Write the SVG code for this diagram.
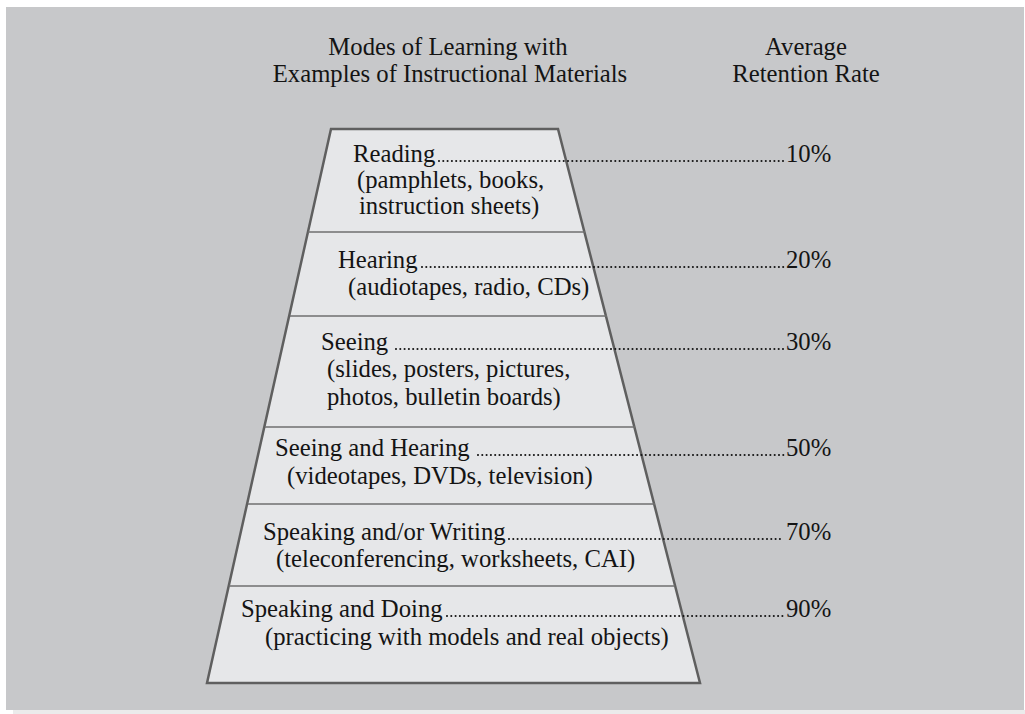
<svg xmlns="http://www.w3.org/2000/svg" width="1025" height="714" viewBox="0 0 1025 714">
<style>
text{font-family:"Liberation Serif","Times New Roman",serif;font-size:24.7px;fill:#141414}
.t{text-anchor:middle}
.div{stroke:#6f6f6f;stroke-width:1.6;fill:none}
.lead{stroke:#141414;stroke-width:2.1;stroke-linecap:round;stroke-dasharray:0 4.3;fill:none}
</style>
<rect x="0" y="0" width="1025" height="714" fill="#ffffff"/>
<rect x="6" y="7" width="1018" height="703" fill="#c7c8ca"/>
<rect x="13" y="710" width="1012" height="4" fill="#ebebeb"/>
<g id="header">
<text class="t" x="448" y="55">Modes of Learning with</text>
<text class="t" x="450" y="82">Examples of Instructional Materials</text>
<text class="t" x="806" y="55">Average</text>
<text class="t" x="806" y="82">Retention Rate</text>
</g>
<g id="pyramid">
<polygon points="331,129 558,129 700,683 207,683" fill="#e6e7e9" stroke="#5f5f5f" stroke-width="2.5" stroke-linejoin="miter"/>
<line class="div" x1="308" y1="232" x2="585" y2="232"/>
<line class="div" x1="290" y1="316" x2="607" y2="316"/>
<line class="div" x1="265" y1="427" x2="635" y2="427"/>
<line class="div" x1="248" y1="504" x2="655" y2="504"/>
<line class="div" x1="229" y1="586" x2="675" y2="586"/>
</g>
<g id="connectors">
<line class="lead" x1="439" y1="161" x2="784" y2="161"/>
<line class="lead" x1="422" y1="267" x2="784" y2="267"/>
<line class="lead" x1="396" y1="349" x2="784" y2="349"/>
<line class="lead" x1="478" y1="455" x2="784" y2="455"/>
<line class="lead" x1="509" y1="539" x2="784" y2="539"/>
<line class="lead" x1="447" y1="616" x2="784" y2="616"/>
</g>
<g id="reading">
<text x="353" y="162">Reading</text>
<text x="357" y="188">(pamphlets, books,</text>
<text x="359" y="214">instruction sheets)</text>
<text x="786" y="162">10%</text>
</g>
<g id="hearing">
<text x="338" y="268">Hearing</text>
<text x="348" y="295">(audiotapes, radio, CDs)</text>
<text x="786" y="268">20%</text>
</g>
<g id="seeing">
<text x="321" y="350">Seeing</text>
<text x="327" y="377">(slides, posters, pictures,</text>
<text x="327" y="405">photos, bulletin boards)</text>
<text x="786" y="350">30%</text>
</g>
<g id="seeing-hearing">
<text x="275" y="456">Seeing and Hearing</text>
<text x="287" y="484">(videotapes, DVDs, television)</text>
<text x="786" y="456">50%</text>
</g>
<g id="speaking-writing">
<text x="263" y="540">Speaking and/or Writing</text>
<text x="276" y="567">(teleconferencing, worksheets, CAI)</text>
<text x="786" y="540">70%</text>
</g>
<g id="speaking-doing">
<text x="241" y="617">Speaking and Doing</text>
<text x="265" y="645">(practicing with models and real objects)</text>
<text x="786" y="617">90%</text>
</g>
</svg>
